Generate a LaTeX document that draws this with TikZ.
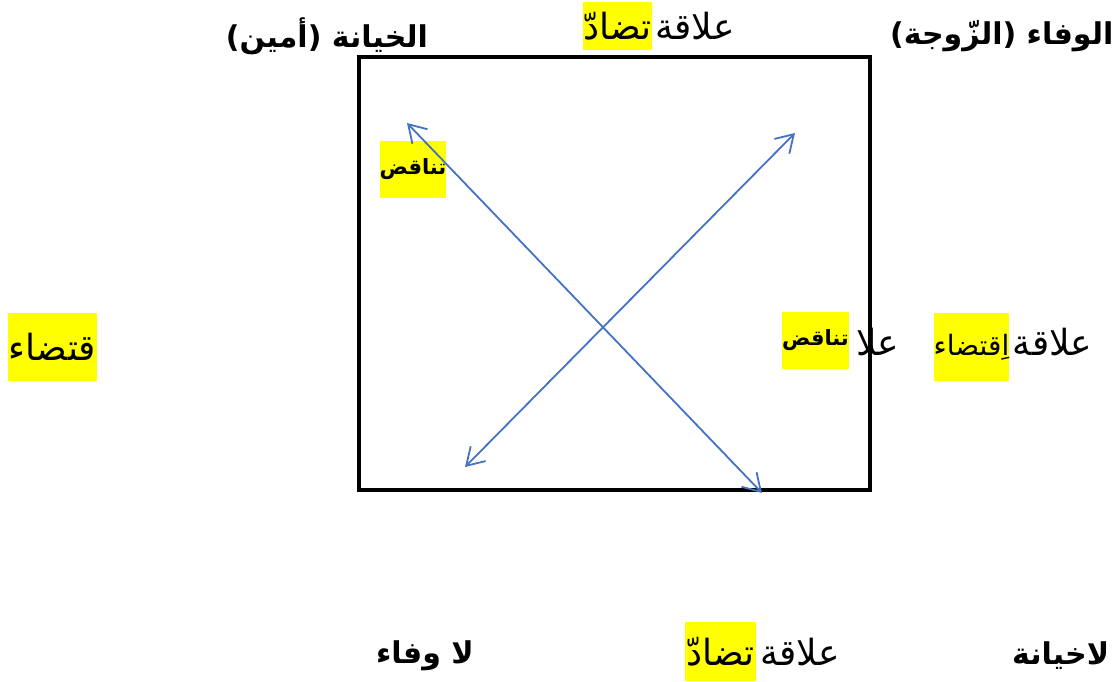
\documentclass[tikz,border=0pt]{standalone}
\usepackage{fontspec}
\usepackage{tikz}
\usetikzlibrary{arrows.meta, positioning}
\usepackage{xcolor}
\definecolor{arrowblue}{RGB}{68,114,196}
\definecolor{marker}{RGB}{255,255,0}
\newfontfamily\arabicfont[Script=Arabic]{DejaVu Sans}
\TeXXeTstate=1
\newcommand{\ar}[1]{\beginR #1\endR}

\begin{document}
\begin{tikzpicture}[
    x=1pt, y=-1pt,
    label/.style={inner sep=0pt, font=\arabicfont\bfseries\fontsize{30}{34}\selectfont},
    word/.style={inner sep=0pt, font=\arabicfont\fontsize{36}{40}\selectfont},
    hl/.style={fill=marker, inner sep=0pt, font=\arabicfont\fontsize{36}{40}\selectfont},
    hlsmall/.style={fill=marker, inner sep=0pt, font=\arabicfont\bfseries\fontsize{21}{24}\selectfont},
    frame/.style={draw, line width=4pt, inner sep=0pt, minimum width=511pt, minimum height=433pt},
    arrow/.style={{Straight Barb[length=17pt, width=21pt]}-{Straight Barb[length=17pt, width=21pt]}, line width=1.8pt, arrowblue},
]
    \useasboundingbox (0,0) rectangle (1114,681);

    % the square
    \node[frame] (square) at (614.5,273.5) {};

    % top row
    \node[label] (betrayal) at (327,36) {\ar{الخيانة (أمين)}};
    \node[hl, minimum width=69pt, minimum height=48pt] (topcontr) at (617.5,26) {\ar{تضادّ}};
    \node[word, base right=3pt of topcontr] (toprel) {\ar{علاقة}};
    \node[label, anchor=west] (loyalty) at (890,36) {\ar{الوفاء (الزّوجة)}};

    % middle row
    \node[hl, minimum width=89pt, minimum height=68pt] (leftimpl) at (52.5,347) {\ar{قتضاء}};
    \node[hlsmall, minimum width=64pt, minimum height=57pt] (contrA) at (413,169.5) {\ar{تناقض}};
    \node[hlsmall, minimum width=65pt, minimum height=57pt] (contrB) at (815.5,340.5) {\ar{تناقض}};
    \node[hl, minimum width=75pt, minimum height=68pt, font=\arabicfont\fontsize{28}{32}\selectfont] (rightimpl) at (971.5,347) {\ar{اِقتضاء}};
    \node[word, base right=3pt of rightimpl] (rightrel) {\ar{علاقة}};
    \node[word, base left=34pt of rightimpl] (rightcut) {\ar{علا}};

    % bottom row
    \node[label] (noloyalty) at (425,656) {\ar{لا وفاء}};
    \node[hl, minimum width=71pt, minimum height=59pt] (botcontr) at (720.5,651.5) {\ar{تضادّ}};
    \node[word, base right=4pt of botcontr] (botrel) {\ar{علاقة}};
    \node[label, anchor=west] (nobetrayal) at (1012,656) {\ar{لاخيانة}};

    % diagonals
    \coordinate (tl) at (407,123);
    \coordinate (br) at (762,493);
    \coordinate (tr) at (795,133);
    \coordinate (bl) at (465,467);
    \draw[arrow] (tl) -- (br);
    \draw[arrow] (tr) -- (bl);
\end{tikzpicture}
\end{document}
